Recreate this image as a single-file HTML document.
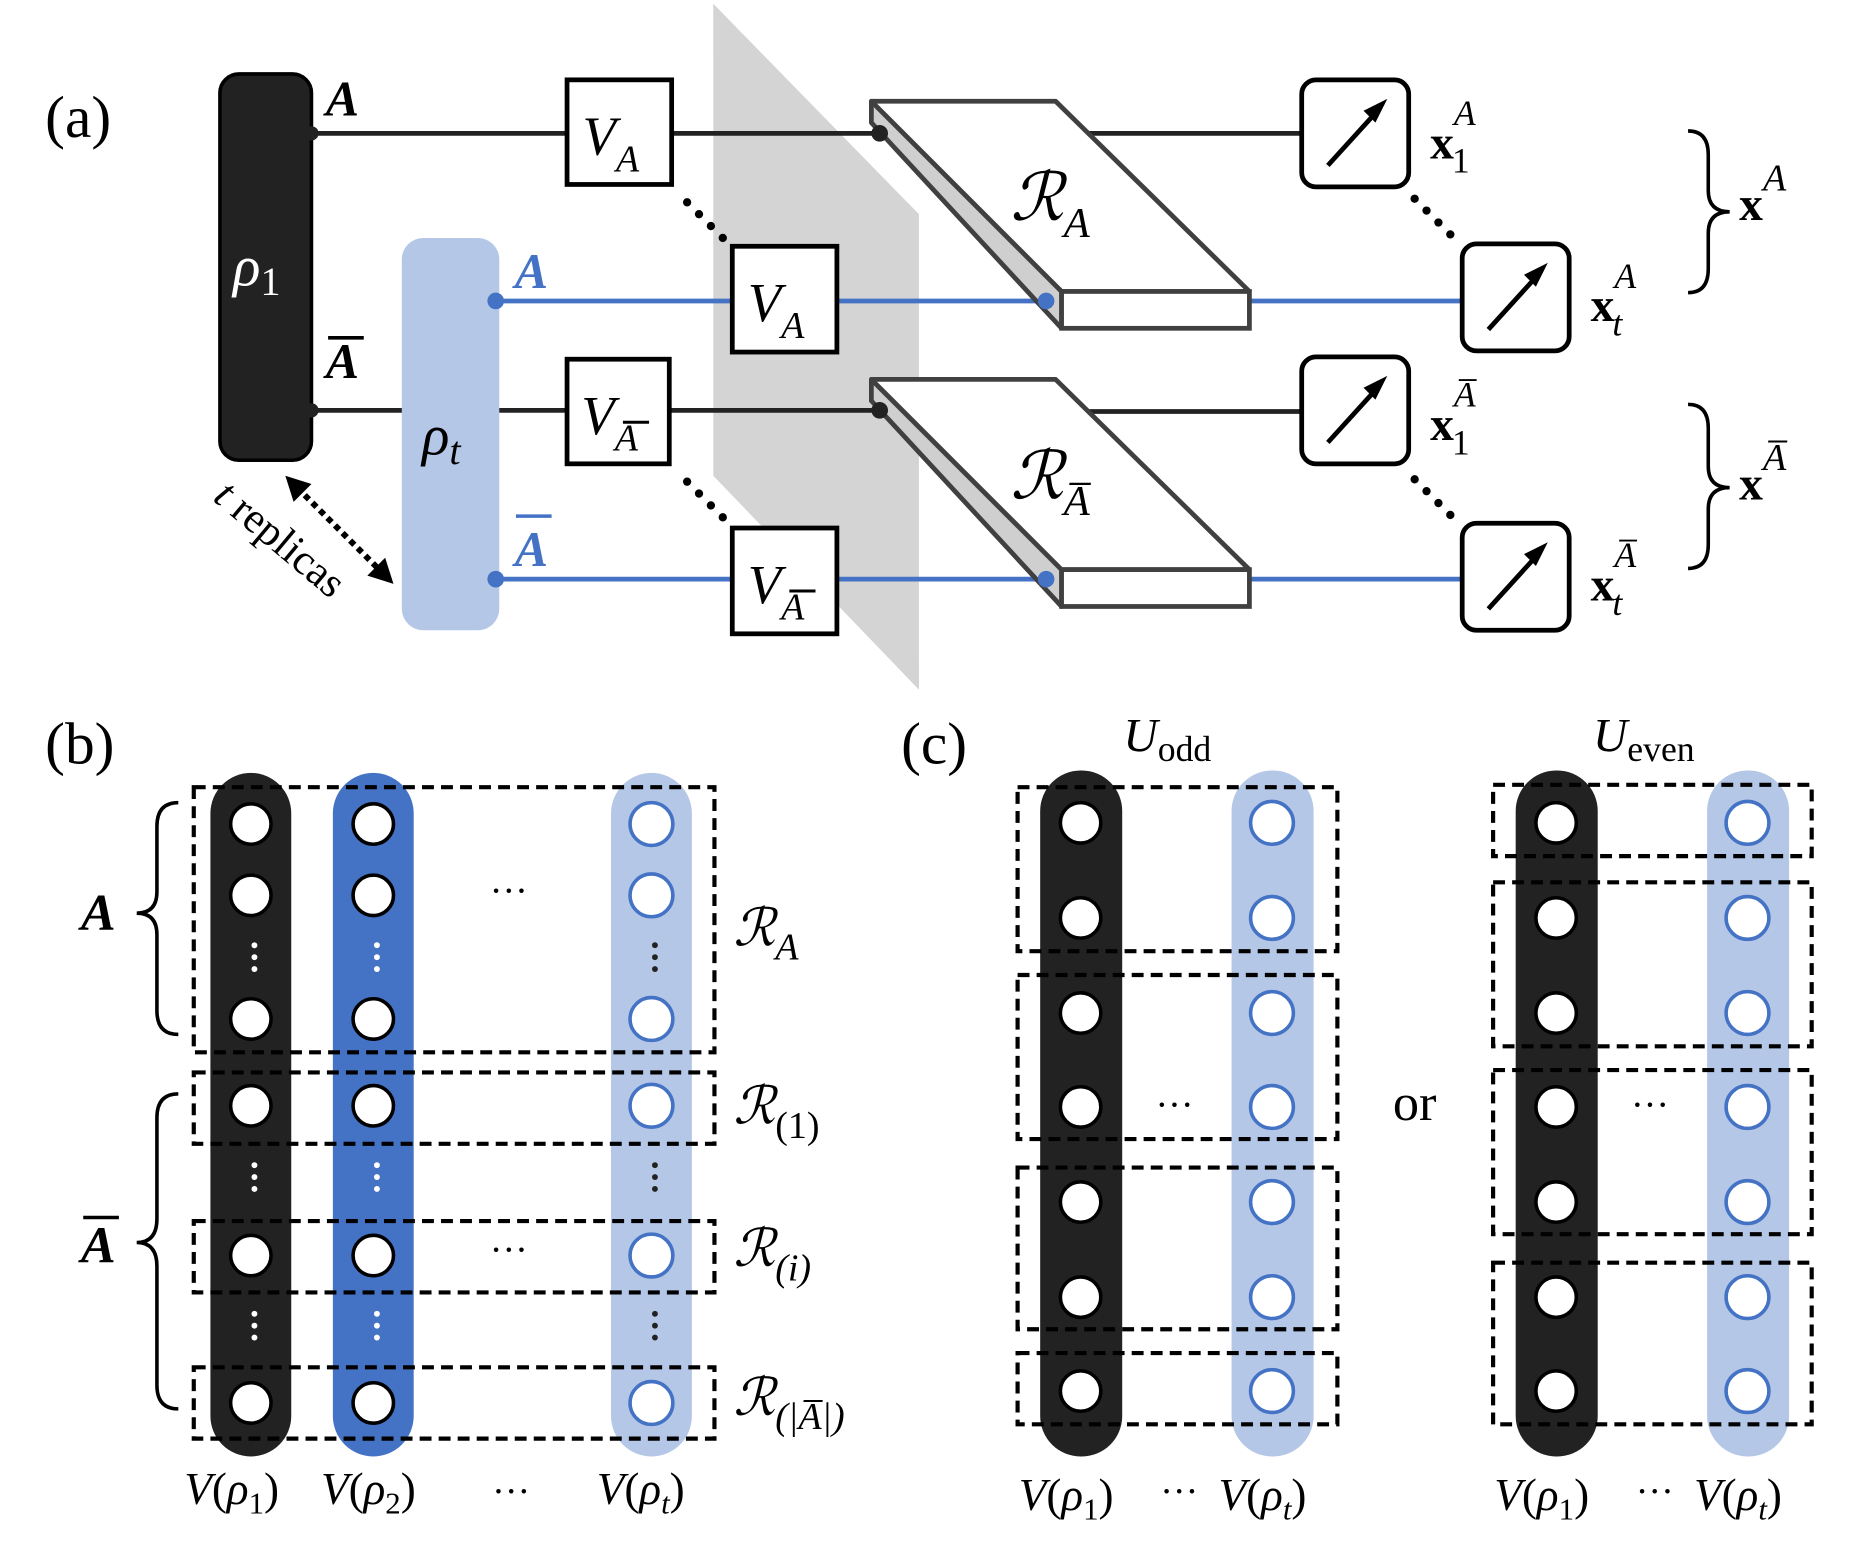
<!DOCTYPE html>
<html><head><meta charset="utf-8"><style>html,body{margin:0;padding:0;background:#fff}svg{display:block}
text{font-family:"Liberation Serif",serif}</style></head><body>
<svg width="1864" height="1547" viewBox="0 0 1568 1301" xmlns="http://www.w3.org/2000/svg">
<defs>
<g id="meter"><rect x="0" y="0" width="90" height="90" rx="12" fill="#fff" stroke="#000" stroke-width="4"/><line x1="22" y1="72" x2="62" y2="28" stroke="#000" stroke-width="4"/><polygon points="72,16 52,26 62,36" fill="#000"/></g>
</defs>
<!-- Panel a -->
<text x="38" y="115" font-size="50">(a)</text>
<polygon points="600,3 773,180 773,580 600,400" fill="#d4d4d4"/>
<line x1="262" y1="112" x2="735" y2="112" stroke="#222" stroke-width="4"/>
<line x1="262" y1="345" x2="735" y2="345" stroke="#222" stroke-width="4"/>
<line x1="417" y1="253" x2="880" y2="253" stroke="#4472c4" stroke-width="4"/>
<line x1="417" y1="487" x2="880" y2="487" stroke="#4472c4" stroke-width="4"/>
<rect x="185" y="62" width="77" height="325" rx="16" fill="#222" stroke="#000" stroke-width="3"/>
<text x="196" y="240" font-size="48" font-style="italic" fill="#fff">ρ<tspan font-size="34" font-style="normal" dy="8">1</tspan></text>
<circle cx="262" cy="112" r="6" fill="#222"/><circle cx="262" cy="345" r="6" fill="#222"/>
<text x="274" y="97" font-size="42" font-weight="bold" font-style="italic">A</text>
<text x="274" y="318" font-size="42" font-weight="bold" font-style="italic">A</text>
<line x1="276" y1="284" x2="306" y2="284" stroke="#000" stroke-width="3"/>
<rect x="338" y="200" width="82" height="330" rx="18" fill="#b4c7e7"/>
<text x="355" y="382" font-size="48" font-style="italic">ρ<tspan font-size="34" dy="8">t</tspan></text>
<circle cx="417" cy="253" r="7" fill="#4472c4"/><circle cx="417" cy="487" r="7" fill="#4472c4"/>
<text x="433" y="242" font-size="42" font-weight="bold" font-style="italic" fill="#4472c4">A</text>
<text x="433" y="476" font-size="42" font-weight="bold" font-style="italic" fill="#4472c4">A</text>
<line x1="434" y1="434" x2="464" y2="434" stroke="#4472c4" stroke-width="3"/>
<g stroke="#000" stroke-width="4" fill="#fff">
<rect x="477" y="67" width="88" height="88"/><rect x="616" y="207" width="88" height="89"/>
<rect x="477" y="302" width="86" height="88"/><rect x="616" y="444" width="88" height="89"/>
</g>
<g font-size="46" font-style="italic">
<text x="490" y="130">V<tspan font-size="32" dy="14">A</tspan></text>
<text x="629" y="270">V<tspan font-size="32" dy="14">A</tspan></text>
<text x="489" y="365">V<tspan font-size="32" dy="14">A</tspan></text>
<text x="629" y="507">V<tspan font-size="32" dy="14">A</tspan></text>
</g>
<line x1="524" y1="355" x2="546" y2="355" stroke="#000" stroke-width="2.5"/>
<line x1="664" y1="497" x2="686" y2="497" stroke="#000" stroke-width="2.5"/>
<g fill="#000"><circle cx="578" cy="170" r="3.5"/><circle cx="588" cy="180" r="3.5"/><circle cx="598" cy="190" r="3.5"/><circle cx="608" cy="200" r="3.5"/>
<circle cx="578" cy="405" r="3.5"/><circle cx="588" cy="415" r="3.5"/><circle cx="598" cy="425" r="3.5"/><circle cx="608" cy="435" r="3.5"/>
<circle cx="1190" cy="167" r="3.5"/><circle cx="1200" cy="177" r="3.5"/><circle cx="1210" cy="187" r="3.5"/><circle cx="1220" cy="197" r="3.5"/>
<circle cx="1190" cy="403" r="3.5"/><circle cx="1200" cy="413" r="3.5"/><circle cx="1210" cy="423" r="3.5"/><circle cx="1220" cy="433" r="3.5"/></g>
<g id="slab">
<line x1="880" y1="112" x2="1095" y2="112" stroke="#222" stroke-width="4"/>
<line x1="1041" y1="253" x2="1230" y2="253" stroke="#4472c4" stroke-width="4"/>
<polygon points="733,85 733,103 893,276 893,245" fill="#cfcfcf" stroke="#404040" stroke-width="4" stroke-linejoin="round"/>
<polygon points="733,85 888,85 1051,245 893,245" fill="#fff" stroke="#404040" stroke-width="4" stroke-linejoin="round"/>
<rect x="893" y="245" width="158" height="31" fill="#fff" stroke="#404040" stroke-width="4"/>
</g>
<use href="#slab" transform="translate(0,234)"/>
<circle cx="740" cy="112" r="7" fill="#222"/><circle cx="740" cy="345" r="7" fill="#222"/>
<circle cx="880" cy="253" r="7" fill="#4472c4"/><circle cx="880" cy="487" r="7" fill="#4472c4"/>
<text x="850" y="185" font-size="56" font-style="italic" font-family="DejaVu Serif">ℛ<tspan font-size="36" dy="14">A</tspan></text>
<text x="850" y="419" font-size="56" font-style="italic" font-family="DejaVu Serif">ℛ<tspan font-size="36" dy="14">A&#x305;</tspan></text>
<use href="#meter" x="1095" y="67"/><use href="#meter" x="1230" y="205"/>
<use href="#meter" x="1095" y="300"/><use href="#meter" x="1230" y="440"/>
<g font-size="40" font-weight="bold">
<text x="1203" y="133">x<tspan font-size="30" font-style="italic" font-weight="normal" dy="-28">A</tspan><tspan font-size="30" font-weight="normal" dx="-20" dy="40">1</tspan></text>
<text x="1338" y="270">x<tspan font-size="30" font-style="italic" font-weight="normal" dy="-28">A</tspan><tspan font-size="30" font-style="italic" font-weight="normal" dx="-20" dy="40">t</tspan></text>
<text x="1203" y="370">x<tspan font-size="30" font-style="italic" font-weight="normal" dy="-28">A&#x305;</tspan><tspan font-size="30" font-weight="normal" dx="-20" dy="40">1</tspan></text>
<text x="1338" y="505">x<tspan font-size="30" font-style="italic" font-weight="normal" dy="-28">A&#x305;</tspan><tspan font-size="30" font-style="italic" font-weight="normal" dx="-20" dy="40">t</tspan></text>
<text x="1463" y="185">x<tspan font-size="32" font-style="italic" font-weight="normal" dy="-25">A</tspan></text>
<text x="1463" y="420">x<tspan font-size="32" font-style="italic" font-weight="normal" dy="-25">A&#x305;</tspan></text>
</g>
<g fill="none" stroke="#000" stroke-width="3">
<path d="M1420,110 Q1437,110 1437,130 L1437,160 Q1437,178 1455,178 Q1437,178 1437,196 L1437,226 Q1437,246 1420,246"/>
<path d="M1420,340 Q1437,340 1437,360 L1437,392 Q1437,410 1455,410 Q1437,410 1437,428 L1437,458 Q1437,478 1420,478"/>
</g>
<text x="0" y="0" font-size="36" transform="translate(178,420) rotate(40)"><tspan font-style="italic">t</tspan> replicas</text>
<line x1="250" y1="410" x2="320" y2="480" stroke="#000" stroke-width="5" stroke-dasharray="5,4"/>
<polygon points="240,400 262,407 247,422" fill="#000"/><polygon points="331,491 309,484 324,469" fill="#000"/>

<!-- Panel b -->
<text x="38" y="642" font-size="50">(b)</text>
<rect x="177" y="650" width="68" height="575" rx="34" fill="#222"/>
<rect x="280" y="650" width="68" height="575" rx="34" fill="#4472c4"/>
<rect x="514" y="650" width="68" height="575" rx="34" fill="#b4c7e7"/>
<g stroke-width="3">
<g fill="#fff" stroke="#000">
<circle cx="211" cy="693" r="17"/><circle cx="211" cy="753" r="17"/><circle cx="211" cy="857" r="17"/><circle cx="211" cy="930" r="17"/><circle cx="211" cy="1056" r="17"/><circle cx="211" cy="1180" r="17"/>
<circle cx="314" cy="693" r="17"/><circle cx="314" cy="753" r="17"/><circle cx="314" cy="857" r="17"/><circle cx="314" cy="930" r="17"/><circle cx="314" cy="1056" r="17"/><circle cx="314" cy="1180" r="17"/>
</g>
<g fill="#fff" stroke="#4472c4">
<circle cx="548" cy="693" r="18"/><circle cx="548" cy="753" r="18"/><circle cx="548" cy="857" r="18"/><circle cx="548" cy="930" r="18"/><circle cx="548" cy="1056" r="18"/><circle cx="548" cy="1180" r="18"/>
</g></g>
<g font-size="30" text-anchor="middle" font-weight="bold">
<g fill="#fff"><text x="211" y="812" transform="rotate(90 211 805)">···</text><text x="211" y="997" transform="rotate(90 211 990)">···</text><text x="211" y="1122" transform="rotate(90 211 1115)">···</text>
<text x="314" y="812" transform="rotate(90 314 805)">···</text><text x="314" y="997" transform="rotate(90 314 990)">···</text><text x="314" y="1122" transform="rotate(90 314 1115)">···</text></g>
<g fill="#222"><text x="548" y="812" transform="rotate(90 548 805)">···</text><text x="548" y="997" transform="rotate(90 548 990)">···</text><text x="548" y="1122" transform="rotate(90 548 1115)">···</text></g>
</g>
<g fill="none" stroke="#000" stroke-width="3.5" stroke-dasharray="10,6">
<rect x="163" y="662" width="438" height="223"/><rect x="163" y="902" width="438" height="60"/>
<rect x="163" y="1027" width="438" height="60"/><rect x="163" y="1150" width="438" height="60"/>
</g>
<text x="428" y="760" font-size="32" text-anchor="middle">···</text>
<text x="428" y="1062" font-size="32" text-anchor="middle">···</text>
<g font-size="44" font-style="italic" font-family="DejaVu Serif">
<text x="617" y="795">ℛ<tspan font-size="32" dy="12">A</tspan></text>
<text x="617" y="945">ℛ<tspan font-size="32" font-style="normal" dy="12">(1)</tspan></text>
<text x="617" y="1065">ℛ<tspan font-size="32" dy="12">(i)</tspan></text>
<text x="617" y="1190">ℛ<tspan font-size="32" dy="12">(|A&#x305;|)</tspan></text>
</g>
<g fill="none" stroke="#000" stroke-width="3">
<path d="M150,675 Q132,675 132,695 L132,750 Q132,768 115,768 Q132,768 132,786 L132,850 Q132,870 150,870"/>
<path d="M150,920 Q132,920 132,940 L132,1025 Q132,1045 115,1045 Q132,1045 132,1065 L132,1165 Q132,1185 150,1185"/>
</g>
<text x="68" y="782" font-size="44" font-weight="bold" font-style="italic">A</text>
<text x="68" y="1062" font-size="44" font-weight="bold" font-style="italic">A</text>
<line x1="70" y1="1024" x2="100" y2="1024" stroke="#000" stroke-width="3"/>
<g font-size="38" font-style="italic">
<text x="155" y="1265">V<tspan font-style="normal">(</tspan>ρ<tspan font-size="26" font-style="normal" dy="8">1</tspan><tspan font-style="normal" dy="-8">)</tspan></text>
<text x="270" y="1265">V<tspan font-style="normal">(</tspan>ρ<tspan font-size="26" font-style="normal" dy="8">2</tspan><tspan font-style="normal" dy="-8">)</tspan></text>
<text x="502" y="1265">V<tspan font-style="normal">(</tspan>ρ<tspan font-size="26" dy="8">t</tspan><tspan font-style="normal" dy="-8">)</tspan></text>
<text x="857" y="1270">V<tspan font-style="normal">(</tspan>ρ<tspan font-size="26" font-style="normal" dy="8">1</tspan><tspan font-style="normal" dy="-8">)</tspan></text>
<text x="1025" y="1270">V<tspan font-style="normal">(</tspan>ρ<tspan font-size="26" dy="8">t</tspan><tspan font-style="normal" dy="-8">)</tspan></text>
<text x="1257" y="1270">V<tspan font-style="normal">(</tspan>ρ<tspan font-size="26" font-style="normal" dy="8">1</tspan><tspan font-style="normal" dy="-8">)</tspan></text>
<text x="1425" y="1270">V<tspan font-style="normal">(</tspan>ρ<tspan font-size="26" dy="8">t</tspan><tspan font-style="normal" dy="-8">)</tspan></text>
</g>
<g font-size="32" text-anchor="middle"><text x="430" y="1265">···</text><text x="992" y="1265">···</text><text x="1392" y="1265">···</text></g>

<!-- Panel c -->
<text x="758" y="642" font-size="50">(c)</text>
<text x="945" y="632" font-size="40" font-style="italic">U<tspan font-size="30" font-style="normal" dy="8">odd</tspan></text>
<text x="1340" y="632" font-size="40" font-style="italic">U<tspan font-size="30" font-style="normal" dy="8">even</tspan></text>
<text x="1190" y="942" font-size="44" text-anchor="middle">or</text>
<g id="cc">
<rect x="875" y="648" width="69" height="577" rx="34" fill="#222"/>
<rect x="1036" y="648" width="69" height="577" rx="34" fill="#b4c7e7"/>
<g stroke-width="3" fill="#fff" stroke="#000">
<circle cx="909" cy="692" r="17"/><circle cx="909" cy="772" r="17"/><circle cx="909" cy="852" r="17"/><circle cx="909" cy="931" r="17"/><circle cx="909" cy="1011" r="17"/><circle cx="909" cy="1091" r="17"/><circle cx="909" cy="1170" r="17"/></g>
<g stroke-width="3" fill="#fff" stroke="#4472c4">
<circle cx="1070" cy="692" r="18"/><circle cx="1070" cy="772" r="18"/><circle cx="1070" cy="852" r="18"/><circle cx="1070" cy="931" r="18"/><circle cx="1070" cy="1011" r="18"/><circle cx="1070" cy="1091" r="18"/><circle cx="1070" cy="1170" r="18"/></g>
<text x="988" y="940" font-size="32" text-anchor="middle">···</text>
</g>
<use href="#cc" transform="translate(400,0)"/>
<g fill="none" stroke="#000" stroke-width="3.5" stroke-dasharray="10,6">
<rect x="856" y="662" width="269" height="138"/><rect x="856" y="820" width="269" height="138"/>
<rect x="856" y="982" width="269" height="136"/><rect x="856" y="1138" width="269" height="60"/>
<rect x="1256" y="660" width="268" height="60"/><rect x="1256" y="742" width="268" height="138"/>
<rect x="1256" y="900" width="268" height="138"/><rect x="1256" y="1062" width="268" height="136"/>
</g>
</svg>
</body></html>
